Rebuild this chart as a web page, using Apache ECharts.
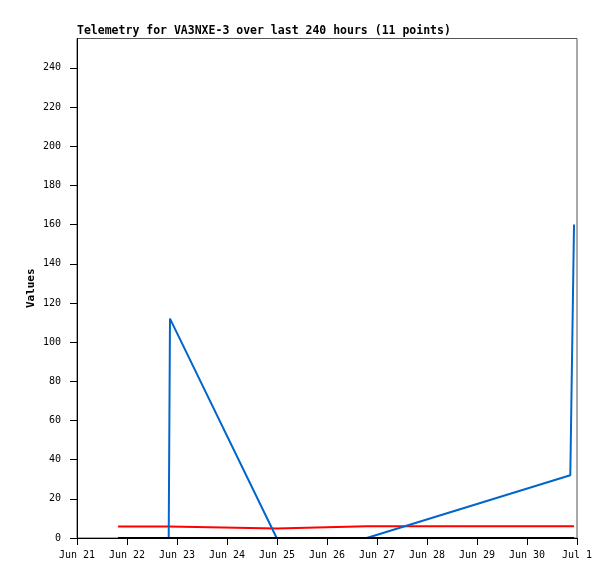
<!DOCTYPE html>
<html>
<head>
<meta charset="utf-8">
<script src="https://cdn.jsdelivr.net/npm/echarts@6/dist/echarts.min.js"></script>
<style>
html,body{margin:0;padding:0;background:#fff;}
#chart{width:615px;height:579px;}
</style>
</head>
<body>
<div id="chart"></div>
<script>
// Data
var times = ["2024-06-21T19:40Z","2024-06-22T20:01Z","2024-06-22T20:38Z","2024-06-24T23:51Z","2024-06-26T19:03Z","2024-06-30T20:47Z","2024-06-30T22:34Z"];
var blueValues = [0, 0, 112, 0, 0, 32, 160];
var redValues = [5.9, 5.9, 5.9, 4.9, 6.0, 6.0, 6.0];
var blackValues = [0, 0, 0, 0, 0, 0, 0];
var yTicks = [0, 20, 40, 60, 80, 100, 120, 140, 160, 180, 200, 220, 240];
var xTickLabels = ["Jun 21","Jun 22","Jun 23","Jun 24","Jun 25","Jun 26","Jun 27","Jun 28","Jun 29","Jun 30","Jul 1"];
var titleText = "Telemetry for VA3NXE-3 over last 240 hours (11 points)";

var DAY = 86400000;
var xMin = Date.UTC(2024, 5, 21);
var xMax = xMin + 10 * DAY;
var ts = times.map(function (t) { return Date.parse(t); });
function pairs(vals) { return ts.map(function (t, i) { return [t, vals[i]]; }); }

var mono = "DejaVu Sans Mono";
var chart = echarts.init(document.getElementById('chart'), null, {renderer: 'canvas'});
chart.setOption({
  animation: false,
  backgroundColor: '#ffffff',
  title: {
    text: titleText,
    left: 72, top: 20,
    textStyle: {fontFamily: mono, fontWeight: 'bold', fontSize: 11.5, color: '#000'}
  },
  grid: {left: 77, right: 38, top: 38.5, bottom: 41, show: true, borderColor: '#555', borderWidth: 1, containLabel: false},
  xAxis: {
    type: 'value', min: xMin, max: xMax, interval: DAY,
    axisLine: {show: true, onZero: false, lineStyle: {color: '#000', width: 1}},
    axisTick: {show: true, inside: false, length: 7, lineStyle: {color: '#000'}},
    splitLine: {show: false},
    axisLabel: {
      margin: 12, color: '#000', fontFamily: mono, fontSize: 10,
      formatter: function (v) { var i = Math.round((v - xMin) / DAY); return xTickLabels[i] || ''; }
    }
  },
  yAxis: {
    type: 'value', min: 0, max: 255,
    name: 'Values', nameLocation: 'middle', nameGap: 40, nameRotate: 90, nameMoveOverlap: false,
    nameTextStyle: {fontFamily: mono, fontWeight: 'bold', fontSize: 11, color: '#000'},
    axisLine: {show: true, lineStyle: {color: '#000', width: 1}},
    axisTick: {show: true, length: 7, customValues: yTicks, lineStyle: {color: '#000'}},
    splitLine: {show: false},
    axisLabel: {margin: 16, color: '#000', fontFamily: mono, fontSize: 10, customValues: yTicks}
  },
  series: [
    {type: 'line', data: pairs(redValues), showSymbol: false, symbol: 'none', lineStyle: {color: '#ff0000', width: 2}, z: 2},
    {type: 'line', data: pairs(blueValues), showSymbol: false, symbol: 'none', lineStyle: {color: '#0066cc', width: 2}, z: 3},
    {type: 'line', data: pairs(blackValues), showSymbol: false, symbol: 'none', lineStyle: {color: '#000000', width: 2}, z: 4}
  ]
});
</script>
</body>
</html>
